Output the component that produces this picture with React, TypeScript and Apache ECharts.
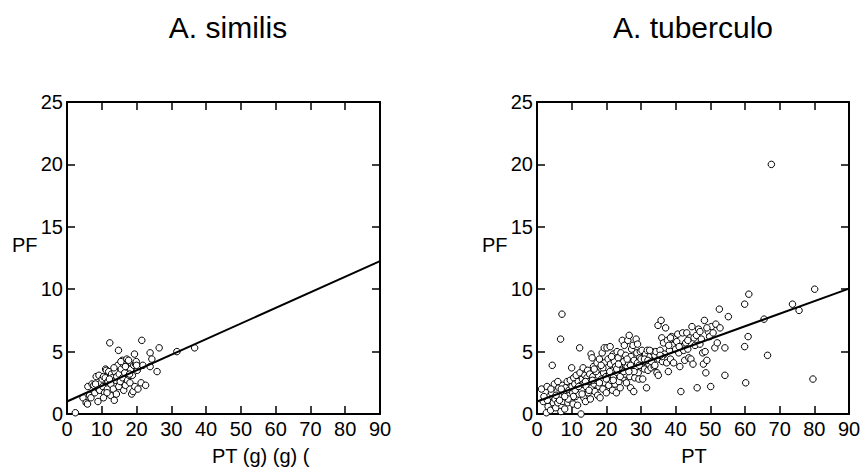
import React, { useEffect, useRef } from "react";
import * as echarts from "echarts";

const titles = ["A. similis", "A. tuberculo"];
const xNames = ["PT (g) (g) (", "PT"];
const yName = "PF";
const xTicks = { min: 0, max: 90, interval: 10 };
const yTicks = { min: 0, max: 25, interval: 5 };

const similisPoints: number[][] = [
  [2.4, 0.1], [4.6, 1.3], [5.5, 0.9], [5.9, 0.8], [6.0, 2.2], [6.5, 1.5], [6.9, 1.3], [7.2, 2.4],
  [7.7, 2.3], [8.0, 1.7], [8.4, 3.0], [8.9, 1.0], [9.0, 2.0], [9.2, 3.1], [9.4, 1.9], [9.8, 2.5],
  [10.1, 2.8], [10.3, 2.2], [10.5, 3.0], [10.8, 1.7], [11.0, 2.9], [11.1, 3.6], [11.3, 3.5], [11.6, 2.0],
  [11.8, 2.6], [12.0, 3.4], [12.3, 5.7], [12.5, 1.5], [12.6, 2.4], [12.8, 3.2], [13.0, 2.9], [13.3, 2.0],
  [13.6, 1.1], [13.8, 3.4], [14.0, 2.7], [14.3, 3.0], [14.6, 3.9], [14.8, 5.1], [14.9, 2.2], [15.0, 3.2],
  [15.3, 2.6], [15.6, 3.6], [15.9, 4.3], [16.0, 2.9], [16.2, 4.0], [16.3, 1.9], [16.6, 3.3], [16.8, 2.3],
  [17.0, 3.8], [17.2, 4.4], [17.4, 2.7], [17.7, 4.3], [17.9, 3.1], [18.1, 2.5], [18.3, 3.6], [18.6, 1.6],
  [18.8, 3.1], [19.0, 1.8], [19.2, 3.9], [19.4, 4.8], [19.5, 2.2], [19.7, 4.0], [19.9, 4.2], [20.2, 3.5],
  [20.4, 2.0], [20.8, 3.8], [21.3, 2.5], [21.5, 5.9], [21.8, 3.9], [22.6, 2.3], [23.9, 3.8], [23.9, 4.9],
  [24.4, 4.4], [25.9, 3.4], [26.5, 5.3], [31.6, 5.0], [36.7, 5.3], [8.2, 2.4], [11.5, 1.7], [13.5, 3.7],
  [15.5, 4.2], [16.8, 3.8], [18.0, 3.2], [20.0, 3.9], [12.2, 2.8], [14.2, 1.6], [10.5, 1.3]
];

const tuberculoPoints: number[][] = [
  [1.3, 2.0], [2.9, 2.2], [1.8, 1.0], [2.7, 0.1], [3.2, 0.6], [3.6, 1.4], [3.9, 0.3], [4.2, 1.7],
  [4.4, 3.9], [4.7, 0.9], [5.0, 2.4], [5.2, 1.2], [5.4, 0.5],
  [5.8, 1.8], [6.0, 0.9], [6.3, 2.1], [6.6, 1.4], [6.8, 6.0], [6.9, 0.2], [7.2, 8.0], [7.3, 2.3],
  [7.5, 1.0], [7.8, 1.7], [8.0, 0.4], [8.2, 2.1], [8.5, 1.3], [8.7, 2.6], [8.9, 0.9], [9.2, 1.9],
  [9.4, 1.5], [9.6, 2.7], [9.8, 1.1], [10.0, 3.7], [10.1, 2.2], [10.3, 1.7], [10.4, 0.8], [10.6, 2.9],
  [10.9, 2.4], [11.1, 1.4], [11.3, 3.1], [11.5, 2.0], [11.7, 0.7], [11.9, 2.6], [12.1, 1.6], [12.3, 5.3],
  [12.4, 3.3], [12.6, 2.3], [12.7, 0.0], [12.9, 1.9], [13.1, 2.8], [13.3, 3.7], [13.5, 1.3], [13.6, 2.5],
  [13.8, 3.1], [14.0, 1.0], [14.2, 2.2], [14.4, 2.9], [14.6, 3.5], [14.8, 1.7], [15.0, 2.6],
  [15.2, 3.2], [15.4, 1.2], [15.6, 4.8], [15.7, 2.1], [15.9, 4.5], [16.1, 3.0], [16.3, 3.8], [16.5, 2.4],
  [16.7, 1.8], [16.9, 3.4], [17.1, 2.7], [17.3, 4.1], [17.5, 1.5], [17.7, 3.1], [17.9, 2.2], [18.0, 4.4],
  [18.2, 1.3], [18.4, 3.6], [18.6, 2.8], [18.8, 4.9], [19.0, 2.0], [19.2, 3.3], [19.4, 5.3], [19.5, 4.1],
  [19.7, 2.5], [19.9, 3.0], [20.0, 1.7],
  [20.2, 5.3], [20.3, 3.7], [20.5, 4.4], [20.7, 2.3], [20.9, 3.2], [21.1, 5.4], [21.2, 4.0], [21.4, 2.7],
  [21.6, 3.5], [21.8, 1.9], [22.0, 4.8], [22.1, 3.0], [22.3, 4.2], [22.5, 2.4], [22.7, 3.8], [22.9, 1.7],
  [23.1, 5.0], [23.2, 3.3], [23.4, 4.5], [23.6, 2.6], [23.8, 3.9], [24.0, 2.1], [24.2, 4.9], [24.4, 3.5],
  [24.6, 5.9], [24.8, 2.9], [25.0, 4.2],
  [25.2, 5.5], [25.4, 3.2], [25.6, 4.7], [25.8, 2.5], [26.0, 3.8], [26.2, 5.9], [26.4, 4.1], [26.6, 6.3],
  [26.8, 3.0], [27.0, 2.1], [27.1, 4.6], [27.3, 5.2], [27.5, 3.5], [27.7, 5.5], [27.9, 1.8], [28.0, 4.3],
  [28.2, 2.9], [28.4, 3.7], [28.6, 6.0], [28.8, 4.9], [29.0, 5.6], [29.2, 3.3], [29.4, 2.8], [29.6, 4.5],
  [29.8, 5.0], [30.0, 3.9],
  [30.3, 5.1], [30.5, 2.8], [30.8, 4.2], [31.0, 3.6], [31.3, 4.8], [31.6, 2.1], [31.8, 5.1], [32.0, 3.5],
  [32.3, 4.0], [32.6, 4.6], [32.9, 3.7], [33.2, 5.0], [33.5, 4.3], [33.8, 3.8], [34.0, 4.7], [34.3, 5.0],
  [34.6, 3.3], [34.9, 7.1], [35.0, 3.1], [35.2, 4.4],
  [35.5, 5.1], [35.8, 7.5], [36.0, 6.1], [36.2, 4.2], [36.5, 5.7], [36.8, 4.8], [37.1, 6.9], [37.4, 4.1],
  [37.6, 5.9], [37.9, 3.4], [38.2, 5.1], [38.5, 4.4], [38.8, 6.2], [39.1, 5.5], [39.4, 4.1], [39.7, 6.0],
  [40.0, 5.2],
  [40.3, 5.8], [40.6, 6.4], [40.9, 4.9], [41.2, 3.8], [41.5, 1.8], [41.8, 5.4], [42.0, 6.5], [42.3, 5.1],
  [42.6, 4.3], [42.9, 5.7], [43.2, 6.5], [43.5, 5.2], [43.8, 4.5], [44.1, 6.1], [44.4, 4.4], [44.7, 7.0],
  [45.0, 4.0],
  [45.3, 6.1], [45.6, 5.5], [46.0, 6.3], [46.2, 2.1], [46.6, 6.8], [47.0, 5.6], [47.4, 6.0], [47.8, 4.9],
  [48.0, 4.0], [48.3, 7.5], [48.5, 5.0], [48.7, 3.3], [49.0, 4.3], [49.4, 6.6], [49.8, 6.2], [50.1, 2.2],
  [50.3, 7.0], [50.8, 6.5], [51.3, 5.3], [51.6, 7.2], [52.0, 5.7], [52.6, 8.4], [52.8, 6.9], [54.2, 5.3],
  [54.2, 3.1], [55.2, 7.8],
  [59.9, 8.8], [59.9, 5.4], [60.2, 2.5], [60.9, 6.2], [61.1, 9.6], [65.5, 7.6], [66.5, 4.7], [67.6, 20.0],
  [73.7, 8.8], [75.6, 8.3], [79.6, 2.8], [80.1, 10.0],
  [11.0, 1.9], [12.0, 2.2], [13.0, 1.6], [14.0, 2.6], [15.0, 1.9], [16.0, 2.7], [17.0, 3.4], [18.0, 2.5],
  [19.0, 3.7], [20.0, 2.8], [21.0, 3.4], [22.0, 2.7], [23.0, 3.6], [24.0, 3.0], [25.0, 3.4], [26.0, 4.4],
  [27.0, 3.9], [28.0, 3.4], [29.0, 4.1], [30.0, 4.4], [31.0, 4.4], [32.0, 4.3], [33.0, 4.2], [34.0, 3.9],
  [36.0, 4.6], [38.0, 5.5], [10.5, 1.4], [9.0, 1.2], [8.0, 1.4], [6.5, 1.1], [5.5, 1.5], [3.0, 1.1],
  [2.0, 1.4], [4.0, 2.0], [6.0, 2.6], [7.0, 2.0], [16.5, 3.6], [18.5, 3.9], [21.5, 4.6], [23.5, 4.0],
  [26.5, 3.4], [29.5, 3.9], [32.5, 5.1], [35.5, 4.7], [38.5, 6.1], [41.0, 5.4], [43.5, 5.9], [47.0, 6.6],
  [49.0, 6.9]
];

const similisFit: number[][] = [[0, 1.0], [90, 12.25]];
const tuberculoFit: number[][] = [[0, 1.0], [90, 10.05]];

const FONT = "Liberation Sans, Arial, sans-serif";

export default function App() {
  const ref = useRef<HTMLDivElement>(null);
  useEffect(() => {
    if (!ref.current) return;
    const chart = echarts.init(ref.current, null, { renderer: "svg" });
    const grids = [
      { left: 67, top: 102, width: 313, height: 312 },
      { left: 537, top: 102, width: 312, height: 312 },
    ];
    const lineStyle = { color: "#000", width: 2 };
    const tick = { show: true, inside: true, length: 8, lineStyle: { color: "#000", width: 1.5 } };
    const xAxis: any[] = [];
    const yAxis: any[] = [];
    [0, 1].forEach((g) => {
      xAxis.push({
        type: "value", gridIndex: g, position: "bottom", ...xTicks,
        axisLine: { show: true, onZero: false, lineStyle },
        axisTick: tick, splitLine: { show: false },
        axisLabel: { color: "#000", fontSize: 20, fontFamily: FONT, margin: 5, showMinLabel: true, showMaxLabel: true },
      });
      xAxis.push({
        type: "value", gridIndex: g, position: "top", ...xTicks,
        axisLine: { show: true, onZero: false, lineStyle },
        axisTick: tick, splitLine: { show: false }, axisLabel: { show: false },
      });
      yAxis.push({
        type: "value", gridIndex: g, position: "left", ...yTicks,
        axisLine: { show: true, onZero: false, lineStyle },
        axisTick: tick, splitLine: { show: false },
        axisLabel: { color: "#000", fontSize: 20, fontFamily: FONT, margin: 4, showMinLabel: true, showMaxLabel: true },
      });
      yAxis.push({
        type: "value", gridIndex: g, position: "right", ...yTicks,
        axisLine: { show: true, onZero: false, lineStyle },
        axisTick: tick, splitLine: { show: false }, axisLabel: { show: false },
      });
    });
    const scatter = (data: number[][], g: number) => ({
      type: "scatter", xAxisIndex: g * 2, yAxisIndex: g * 2, data,
      symbol: "circle", symbolSize: 6.5,
      itemStyle: { color: "#fff", borderColor: "#000", borderWidth: 1, opacity: 1 },
      z: 2,
    });
    const fit = (data: number[][], g: number) => ({
      type: "line", xAxisIndex: g * 2, yAxisIndex: g * 2, data,
      symbol: "none", lineStyle: { color: "#000", width: 2 }, z: 3,
    });
    const text = (t: string, x: number, y: number, size: number, align: string) => ({
      type: "text", x, y,
      style: { text: t, font: `${size}px ${FONT}`, fill: "#000", textAlign: align, textVerticalAlign: "middle" },
    });
    chart.setOption({
      animation: false,
      backgroundColor: "#fff",
      grid: grids,
      xAxis, yAxis,
      series: [
        scatter(similisPoints, 0), fit(similisFit, 0),
        scatter(tuberculoPoints, 1), fit(tuberculoFit, 1),
      ],
      graphic: [
        text(titles[0], 228, 27, 30, "center"),
        text(titles[1], 693, 27, 30, "center"),
        text(yName, 12, 245, 20, "left"),
        text(yName, 482, 245, 20, "left"),
        text(xNames[0], 212, 456, 20, "left"),
        text(xNames[1], 694, 456, 20, "center"),
      ],
    });
    return () => chart.dispose();
  }, []);
  return <div ref={ref} style={{ position: "absolute", left: 0, top: 0, width: 864, height: 469 }} />;
}
